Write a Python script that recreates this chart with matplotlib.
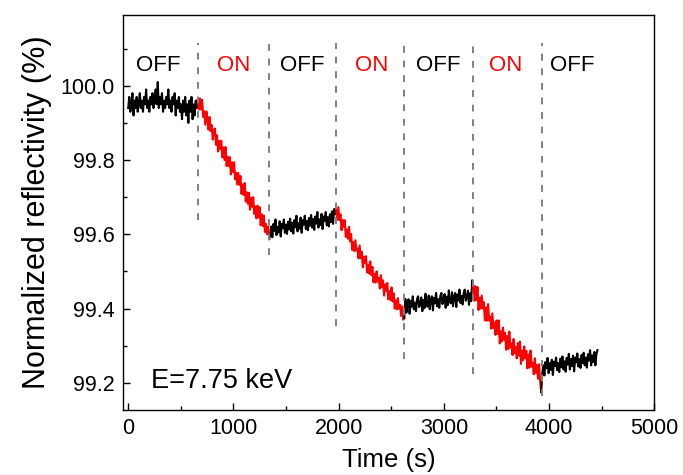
import numpy as np
import matplotlib
matplotlib.use("Agg")
from matplotlib import pyplot as plt

plt.rcParams['font.family'] = ['Liberation Sans', 'DejaVu Sans']

# segment boundaries (s)
edges = [0, 662, 1340, 1977, 2624, 3279, 3925, 4460]
states = ["OFF", "ON", "OFF", "ON", "OFF", "ON", "OFF"]
label_t = [285, 998, 1654, 2310, 2947, 3584, 4221]

# reflectivity values (%), one list per segment (~10 s apart)
seg1 = [99.94, 99.97, 99.93, 99.95, 99.98, 99.92, 99.96, 99.94, 99.97, 99.93,
        99.95, 99.98, 99.94, 99.96, 99.93, 99.97, 99.95, 99.99, 99.94, 99.96,
        99.93, 99.97, 99.95, 99.98, 99.94, 99.96, 99.99, 99.95, 100.01, 99.94,
        99.97, 99.95, 99.98, 99.93, 99.96, 99.94, 99.97, 99.95, 99.99, 99.94,
        99.96, 99.93, 99.97, 99.95, 99.98, 99.92, 99.96, 99.94, 99.97, 99.93,
        99.95, 99.91, 99.96, 99.93, 99.97, 99.92, 99.95, 99.90, 99.96, 99.93,
        99.97, 99.91, 99.95, 99.92, 99.96, 99.94, 99.962]
seg2 = [99.962, 99.936, 99.966, 99.936, 99.962, 99.916, 99.931, 99.895, 99.931, 99.911,
        99.882, 99.916, 99.878, 99.894, 99.855, 99.879, 99.885, 99.841, 99.867, 99.823,
        99.851, 99.830, 99.852, 99.807, 99.834, 99.800, 99.835, 99.784, 99.809, 99.783,
        99.808, 99.761, 99.794, 99.768, 99.794, 99.748, 99.766, 99.734, 99.765, 99.733,
        99.757, 99.709, 99.734, 99.706, 99.738, 99.688, 99.713, 99.682, 99.712, 99.666,
        99.698, 99.674, 99.700, 99.655, 99.675, 99.643, 99.677, 99.645, 99.673, 99.624,
        99.654, 99.622, 99.650, 99.606, 99.628, 99.600, 99.620, 99.588]
seg3 = [99.588, 99.598, 99.621, 99.592, 99.628, 99.609, 99.640, 99.598, 99.620, 99.605,
        99.635, 99.594, 99.628, 99.616, 99.640, 99.604, 99.626, 99.601, 99.634, 99.613,
        99.642, 99.608, 99.631, 99.602, 99.638, 99.619, 99.650, 99.608, 99.630, 99.615,
        99.645, 99.604, 99.638, 99.626, 99.650, 99.614, 99.636, 99.611, 99.644, 99.623,
        99.652, 99.618, 99.641, 99.612, 99.648, 99.629, 99.660, 99.618, 99.640, 99.625,
        99.655, 99.614, 99.648, 99.636, 99.660, 99.624, 99.646, 99.621, 99.654, 99.633,
        99.662, 99.628, 99.668, 99.654, 99.665]
seg4 = [99.665, 99.639, 99.673, 99.638, 99.654, 99.611, 99.639, 99.620, 99.638, 99.593,
        99.613, 99.588, 99.620, 99.581, 99.601, 99.558, 99.579, 99.555, 99.584, 99.556,
        99.562, 99.535, 99.570, 99.536, 99.553, 99.511, 99.540, 99.522, 99.541, 99.497,
        99.518, 99.494, 99.527, 99.490, 99.512, 99.471, 99.493, 99.470, 99.500, 99.473,
        99.482, 99.454, 99.490, 99.457, 99.476, 99.435, 99.465, 99.448, 99.469, 99.425,
        99.447, 99.423, 99.457, 99.419, 99.441, 99.400, 99.422, 99.398, 99.428, 99.400,
        99.410, 99.380, 99.406, 99.370, 99.375]
seg5 = [99.375, 99.426, 99.389, 99.415, 99.425, 99.386, 99.420, 99.405, 99.433, 99.398,
        99.416, 99.393, 99.425, 99.433, 99.404, 99.412, 99.430, 99.393, 99.423, 99.401,
        99.440, 99.408, 99.405, 99.435, 99.398, 99.424, 99.433, 99.395, 99.429, 99.414,
        99.442, 99.406, 99.425, 99.402, 99.434, 99.442, 99.412, 99.421, 99.439, 99.402,
        99.432, 99.409, 99.449, 99.417, 99.414, 99.444, 99.406, 99.433, 99.442, 99.404,
        99.438, 99.422, 99.451, 99.415, 99.434, 99.411, 99.442, 99.451, 99.421, 99.430,
        99.448, 99.410, 99.441, 99.420, 99.476, 99.462]
seg6 = [99.462, 99.421, 99.460, 99.423, 99.458, 99.396, 99.429, 99.400, 99.435, 99.400,
        99.417, 99.368, 99.403, 99.367, 99.412, 99.368, 99.378, 99.346, 99.387, 99.347,
        99.362, 99.329, 99.368, 99.332, 99.368, 99.306, 99.339, 99.312, 99.349, 99.316,
        99.335, 99.289, 99.326, 99.291, 99.338, 99.295, 99.306, 99.275, 99.318, 99.280,
        99.297, 99.266, 99.307, 99.273, 99.311, 99.251, 99.287, 99.261, 99.298, 99.266,
        99.286, 99.239, 99.276, 99.241, 99.287, 99.244, 99.254, 99.223, 99.266, 99.227,
        99.248, 99.211, 99.250, 99.205, 99.175]
seg7 = [99.175, 99.226, 99.247, 99.220, 99.256, 99.239, 99.267, 99.226, 99.253, 99.235,
        99.262, 99.221, 99.257, 99.245, 99.268, 99.234, 99.253, 99.229, 99.265, 99.242,
        99.271, 99.236, 99.258, 99.230, 99.267, 99.249, 99.278, 99.236, 99.264, 99.245,
        99.273, 99.231, 99.268, 99.255, 99.279, 99.244, 99.264, 99.240, 99.275, 99.253,
        99.281, 99.247, 99.268, 99.241, 99.277, 99.260, 99.288, 99.247, 99.274, 99.256,
        99.283, 99.247, 99.278, 99.288]
segs = [seg1, seg2, seg3, seg4, seg5, seg6, seg7]

# dashed markers: x position and lower end of each line
dash_t = [662, 1340, 1977, 2624, 3279, 3932]
dash_lo = [99.638, 99.543, 99.354, 99.265, 99.224, 99.165]
dash_hi = 100.114

fig = plt.figure(figsize=(6.83, 4.75), dpi=100)
ax = fig.add_axes([0.180, 0.137, 0.778, 0.831])

for i, s in enumerate(segs):
    t = np.linspace(edges[i], edges[i + 1], len(s))
    col = 'red' if states[i] == "ON" else 'black'
    ax.plot(t, s, color=col, lw=1.5)

for x, lo in zip(dash_t, dash_lo):
    ax.plot([x, x], [lo, dash_hi], color='#808080', lw=1.4, dashes=(3.5, 4))

for x, st in zip(label_t, states):
    ax.text(x, 100.055, st, ha='center', va='center', fontsize=16,
            color='red' if st == "ON" else 'black')

ax.text(215, 99.205, "E=7.75 keV", fontsize=19.5, va='center')

ax.set_xlim(-50, 5000)
ax.set_ylim(99.127, 100.19)
ax.set_xticks([0, 1000, 2000, 3000, 4000, 5000])
ax.set_xticks(np.arange(500, 5000, 1000), minor=True)
ax.set_yticks([99.2, 99.4, 99.6, 99.8, 100.0])
ax.set_yticks([99.3, 99.5, 99.7, 99.9, 100.1], minor=True)
ax.set_yticklabels(["99.2", "99.4", "99.6", "99.8", "100.0"])
ax.tick_params(which='both', direction='in', labelsize=15.5, width=1)
ax.tick_params(which='major', length=5, pad=6)
ax.tick_params(which='minor', length=3)
for sp in ax.spines.values():
    sp.set_linewidth(1.0)

ax.set_xlabel("Time (s)", fontsize=18.5, labelpad=6)
ax.set_ylabel("Normalized reflectivity (%)", fontsize=22, labelpad=6)

plt.savefig("out.png", dpi=100)
